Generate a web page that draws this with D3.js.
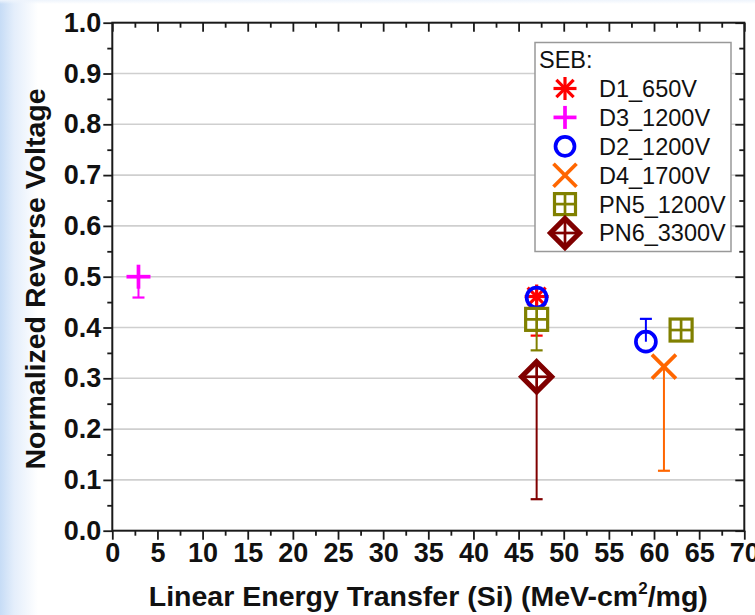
<!DOCTYPE html>
<html><head><meta charset="utf-8">
<script src="https://cdn.jsdelivr.net/npm/d3@7"></script>
<style>
html,body{margin:0;padding:0;}
body{width:755px;height:615px;overflow:hidden;background:linear-gradient(to bottom,#eef4fc 0px,rgba(255,255,255,0) 4px),linear-gradient(to right,#c6dcf6 0px,#e4eefb 14px,#ffffff 38px);}
svg{display:block;}
</style></head>
<body>
<svg id="c" width="755" height="615"></svg>
<script>
// ----- data -----
const seriesNames = ["D1_650V","D3_1200V","D2_1200V","D4_1700V","PN5_1200V","PN6_3300V"];
const seriesColors = ["#ff0000","#ff00ff","#0000ff","#ff6600","#808000","#800000"];
const seriesShapes = ["asterisk","plus","circle","cross","squaregrid","diamondgrid"];
// points: [LET, normalized voltage, error low, error high]
const D1_650V   = [[47.0, 0.461, 0.384, 0.461]];
const D3_1200V  = [[2.9, 0.500, 0.459, 0.500],[47.0, 0.417, 0.417, 0.417]];
const D2_1200V  = [[47.0, 0.459, 0.459, 0.459],[59.1, 0.372, 0.372, 0.417]];
const D4_1700V  = [[61.1, 0.323, 0.118, 0.323]];
const PN5_1200V = [[47.0, 0.416, 0.355, 0.416],[63.0, 0.395, 0.395, 0.395]];
const PN6_3300V = [[47.0, 0.303, 0.062, 0.303]];
const seriesData = [D1_650V, D3_1200V, D2_1200V, D4_1700V, PN5_1200V, PN6_3300V];
const xTicks = [0,5,10,15,20,25,30,35,40,45,50,55,60,65,70];
const yTicks = [0.0,0.1,0.2,0.3,0.4,0.5,0.6,0.7,0.8,0.9,1.0];
const xTitle = "Linear Energy Transfer (Si) (MeV-cm";
const yTitle = "Normalized Reverse Voltage";
const legendTitle = "SEB:";

// ----- layout -----
const L = 112.3, R = 744.3, T = 22.7, B = 530.7;
const svg = d3.select("#c");
const x = d3.scaleLinear().domain([0,70]).range([L,R]);
const y = d3.scaleLinear().domain([0,1]).range([B,T]);
const font = "'Liberation Sans', Arial, sans-serif";

// gridlines
svg.append("g").selectAll("line").data(yTicks.filter(v=>v>0 && v<1)).join("line")
  .attr("x1",L).attr("x2",R).attr("y1",d=>y(d)).attr("y2",d=>y(d))
  .attr("stroke","#cfcfcf").attr("stroke-width",1.6);

const minorX = d3.range(2.5,70,5);
const minorY = d3.range(0.05,1,0.1);
const axisColor = "#1a1a1a";

function styleAxis(g){
  g.select(".domain").remove();
  g.selectAll(".tick line").attr("stroke",axisColor).attr("stroke-width",1.8);
}
// bottom
const gb = svg.append("g").attr("transform",`translate(0,${B})`)
  .call(d3.axisBottom(x).tickValues(xTicks).tickSize(9).tickPadding(3).tickFormat(d3.format("d")));
styleAxis(gb);
gb.selectAll(".tick text").attr("font-family",font).attr("font-weight","bold").attr("font-size",27).attr("fill","#111").attr("dy","0.71em");
svg.append("g").attr("transform",`translate(0,${B})`)
  .call(d3.axisBottom(x).tickValues(minorX).tickSize(5).tickFormat("")).call(styleAxis);
// top (inward)
svg.append("g").attr("transform",`translate(0,${T})`)
  .call(d3.axisTop(x).tickValues(xTicks).tickSize(-9).tickFormat("")).call(styleAxis);
svg.append("g").attr("transform",`translate(0,${T})`)
  .call(d3.axisTop(x).tickValues(minorX).tickSize(-5).tickFormat("")).call(styleAxis);
// left
const gl = svg.append("g").attr("transform",`translate(${L},0)`)
  .call(d3.axisLeft(y).tickValues(yTicks).tickSize(9).tickPadding(2).tickFormat(d3.format(".1f")));
styleAxis(gl);
gl.selectAll(".tick text").attr("font-family",font).attr("font-weight","bold").attr("font-size",27).attr("fill","#111");
svg.append("g").attr("transform",`translate(${L},0)`)
  .call(d3.axisLeft(y).tickValues(minorY).tickSize(5).tickFormat("")).call(styleAxis);
// right (inward)
svg.append("g").attr("transform",`translate(${R},0)`)
  .call(d3.axisRight(y).tickValues(yTicks).tickSize(-9).tickFormat("")).call(styleAxis);
svg.append("g").attr("transform",`translate(${R},0)`)
  .call(d3.axisRight(y).tickValues(minorY).tickSize(-5).tickFormat("")).call(styleAxis);
// frame
svg.append("rect").attr("x",L).attr("y",T).attr("width",R-L).attr("height",B-T)
  .attr("fill","none").attr("stroke",axisColor).attr("stroke-width",2);

// titles
const xt = svg.append("text").attr("x",(L+R)/2-0).attr("y",606).attr("text-anchor","middle")
  .attr("font-family",font).attr("font-weight","bold").attr("font-size",28.5).attr("fill","#111");
xt.append("tspan").text(xTitle);
xt.append("tspan").text("2").attr("font-size",17).attr("dy",-12);
xt.append("tspan").text("/mg)").attr("dy",12);
svg.append("text").attr("transform",`translate(45,${(88+470)/2}) rotate(-90)`).attr("text-anchor","middle")
  .attr("font-family",font).attr("font-weight","bold").attr("font-size",28.5).attr("fill","#111").text(yTitle);

// marker drawing
function drawMarker(g, shape, color, cx, cy, s){
  const sw = 3.2;
  if(shape==="asterisk"){
    const r=s/2;
    [[0,-r,0,r],[-r,0,r,0],[-r*0.75,-r*0.75,r*0.75,r*0.75],[-r*0.75,r*0.75,r*0.75,-r*0.75]].forEach(a=>
      g.append("line").attr("x1",cx+a[0]).attr("y1",cy+a[1]).attr("x2",cx+a[2]).attr("y2",cy+a[3]).attr("stroke",color).attr("stroke-width",sw));
  } else if(shape==="plus"){
    const r=s/2;
    g.append("line").attr("x1",cx-r).attr("x2",cx+r).attr("y1",cy).attr("y2",cy).attr("stroke",color).attr("stroke-width",sw+0.5);
    g.append("line").attr("x1",cx).attr("x2",cx).attr("y1",cy-r).attr("y2",cy+r).attr("stroke",color).attr("stroke-width",sw+0.5);
  } else if(shape==="circle"){
    g.append("circle").attr("cx",cx).attr("cy",cy).attr("r",s/2-2).attr("fill","none").attr("stroke",color).attr("stroke-width",sw+0.5);
  } else if(shape==="cross"){
    const r=s/2;
    g.append("line").attr("x1",cx-r).attr("y1",cy-r).attr("x2",cx+r).attr("y2",cy+r).attr("stroke",color).attr("stroke-width",sw+0.5);
    g.append("line").attr("x1",cx-r).attr("y1",cy+r).attr("x2",cx+r).attr("y2",cy-r).attr("stroke",color).attr("stroke-width",sw+0.5);
  } else if(shape==="squaregrid"){
    const r=s/2-1;
    g.append("rect").attr("x",cx-r).attr("y",cy-r).attr("width",2*r).attr("height",2*r).attr("fill","#fff").attr("stroke",color).attr("stroke-width",sw);
    g.append("line").attr("x1",cx-r).attr("x2",cx+r).attr("y1",cy).attr("y2",cy).attr("stroke",color).attr("stroke-width",sw-0.5);
    g.append("line").attr("x1",cx).attr("x2",cx).attr("y1",cy-r).attr("y2",cy+r).attr("stroke",color).attr("stroke-width",sw-0.5);
  } else if(shape==="diamondgrid"){
    const r=s/2+3;
    g.append("path").attr("d",`M${cx},${cy-r}L${cx+r},${cy}L${cx},${cy+r}L${cx-r},${cy}Z`).attr("fill","#fff").attr("stroke",color).attr("stroke-width",sw+2).attr("stroke-linejoin","miter");
    g.append("line").attr("x1",cx-r).attr("x2",cx+r).attr("y1",cy).attr("y2",cy).attr("stroke",color).attr("stroke-width",sw-0.5);
    g.append("line").attr("x1",cx).attr("x2",cx).attr("y1",cy-r).attr("y2",cy+r).attr("stroke",color).attr("stroke-width",sw-0.5);
  }
}

// error bars then markers
const plot = svg.append("g");
seriesData.forEach((pts,i)=>{
  const c = seriesColors[i];
  pts.forEach(p=>{
    const eb = plot.append("g");
    if(p[2] < p[1]){
      eb.append("line").attr("x1",x(p[0])).attr("x2",x(p[0])).attr("y1",y(p[1])).attr("y2",y(p[2])).attr("stroke",c).attr("stroke-width",2);
      eb.append("line").attr("x1",x(p[0])-6).attr("x2",x(p[0])+6).attr("y1",y(p[2])).attr("y2",y(p[2])).attr("stroke",c).attr("stroke-width",2.2);
    }
    if(p[3] > p[1]){
      eb.append("line").attr("x1",x(p[0])).attr("x2",x(p[0])).attr("y1",y(p[1])).attr("y2",y(p[3])).attr("stroke",c).attr("stroke-width",2);
      eb.append("line").attr("x1",x(p[0])-6).attr("x2",x(p[0])+6).attr("y1",y(p[3])).attr("y2",y(p[3])).attr("stroke",c).attr("stroke-width",2.2);
    }
  });
});
seriesData.forEach((pts,i)=>{
  pts.forEach(p=>{
    drawMarker(plot.append("g"), seriesShapes[i], seriesColors[i], x(p[0]), y(p[1]), 24);
  });
});

// legend
const lg = svg.append("g");
lg.append("rect").attr("x",535).attr("y",42.5).attr("width",196).attr("height",209)
  .attr("fill","#fff").attr("stroke","#999").attr("stroke-width",1.5);
lg.append("text").attr("x",539).attr("y",68).attr("font-family",font).attr("font-size",23.5).attr("fill","#111").text(legendTitle);
seriesNames.forEach((n,i)=>{
  const cy = 88.5 + i*28.9;
  drawMarker(lg.append("g"), seriesShapes[i], seriesColors[i], 565, cy, 23);
  lg.append("text").attr("x",599).attr("y",cy).attr("dy","0.36em").attr("font-family",font).attr("font-size",23.5).attr("fill","#111").text(n);
});
</script>
</body></html>
